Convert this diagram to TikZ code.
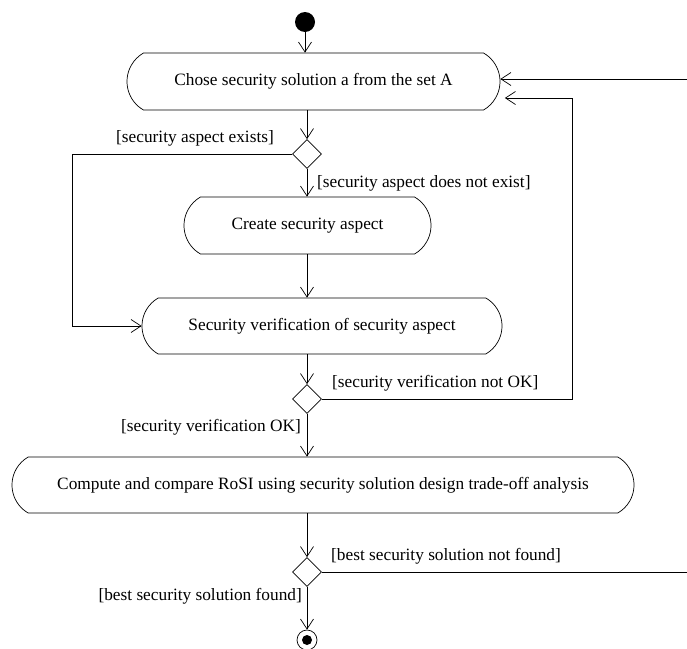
\documentclass[tikz,border=0pt]{standalone}
\usepackage{fontspec}
\setmainfont{Liberation Serif}
\usetikzlibrary{shapes.misc,shapes.geometric,arrows.meta}

\begin{document}
\begin{tikzpicture}[x=1pt,y=-1pt,
  txt/.style={font=\fontsize{17.3}{20}\selectfont},
  action/.style={draw, rounded rectangle, rounded rectangle arc length=120,
    inner sep=0pt, line width=0.7pt, txt},
  decision/.style={draw, diamond, minimum width=29pt, minimum height=29pt,
    inner sep=0pt, line width=0.7pt},
  flow/.style={line width=0.7pt, -{Straight Barb[length=10pt,width=13pt,line width=0.7pt]}},
  plain/.style={line width=0.7pt},
  guard/.style={inner sep=0pt, txt}
]
\useasboundingbox (0,0) rectangle (687,648);

% nodes
\node[circle, fill=black, minimum size=20pt, inner sep=0pt] (start) at (305,22) {};
\node[action, minimum width=373pt, minimum height=57pt] (choose) at (313.5,81.5)
  {Chose security solution a from the set A};
\node[decision] (d1) at (307,154) {};
\node[action, minimum width=247pt, minimum height=57pt] (create) at (307.5,225.5)
  {Create security aspect};
\node[action, minimum width=360pt, minimum height=56pt] (verify) at (322,326)
  {Security verification of security aspect};
\node[decision] (d2) at (307,399) {};
\node[action, minimum width=622pt, minimum height=56pt] (rosi) at (323,485)
  {Compute and compare RoSI using security solution design trade-off analysis};
\node[decision] (d3) at (307,572) {};
\node[circle, draw, line width=0.7pt, minimum size=20pt, inner sep=0pt,
  path picture={\fill (path picture bounding box.center) circle (5pt);}] (stop) at (307,640) {};

% helper coordinates for the loop-back lines
\coordinate (left) at (72,0);
\coordinate (back) at (572,98);
\coordinate (in1) at (687,79);
\coordinate (out1) at (687,572);

% connectors
\draw[flow] (start.south) -- (start.south |- choose.north);
\draw[flow] (choose.south -| d1.north) -- (d1.north);
\draw[flow] (d1.south) -- (d1.south |- create.north);
\draw[flow] (d1.west) -- (d1.west -| left) -- (verify.west -| left) -- (verify.west);
\draw[flow] (create.south -| d1.south) -- (verify.north -| d1.south);
\draw[flow] (verify.south -| d2.north) -- (d2.north);
\draw[flow, shorten >=4.5pt] (d2.east) -| (back) -- (back -| choose.east);
\draw[flow] (in1) -- (in1 -| choose.east);
\draw[flow] (d2.south) -- (d2.south |- rosi.north);
\draw[flow] (rosi.south -| d3.north) -- (d3.north);
\draw[plain] (d3.east) -- (out1);
\draw[flow] (d3.south) -- (stop.north);

% guards
\node[guard, anchor=east] (g1) at (274,138) {[security aspect exists]};
\node[guard, anchor=west] (g2) at (317,183) {[security aspect does not exist]};
\node[guard, anchor=west] (g3) at (332,383) {[security verification not OK]};
\node[guard, anchor=east] (g4) at (301,427) {[security verification OK]};
\node[guard, anchor=west] (g5) at (331,556) {[best security solution not found]};
\node[guard, anchor=east] (g6) at (302,596) {[best security solution found]};
\end{tikzpicture}
\end{document}
